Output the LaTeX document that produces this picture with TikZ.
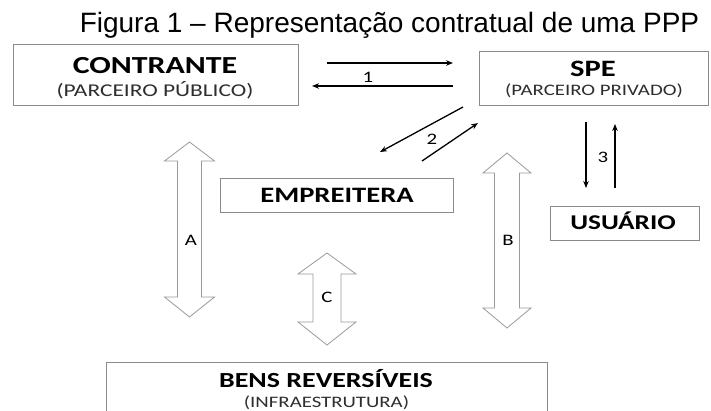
\documentclass[tikz,border=0pt]{standalone}
\usepackage{fontspec}
\setmainfont{Liberation Sans}
\newfontfamily\calfont[FakeStretch=1.3]{Carlito}
\usetikzlibrary{arrows.meta}
\definecolor{boxgray}{HTML}{8A8A8A}
\definecolor{arrgray}{HTML}{9A9A9A}
\definecolor{subgray}{HTML}{2E2E2E}
\newcommand{\blkarrow}[7]{%
  \draw[blk] (#1,#2) -- (#1+#6,#3) -- (#1+#7,#3) -- (#1+#7,#5) -- (#1+#6,#5) -- (#1,#4)
    -- (#1-#6,#5) -- (#1-#7,#5) -- (#1-#7,#3) -- (#1-#6,#3) -- cycle;}
\begin{document}
\begin{tikzpicture}[x=1pt,y=-1pt,
  box/.style={draw=boxgray, line width=1pt, fill=white, inner sep=0pt},
  tx/.style={inner sep=0pt, anchor=base},
  bigb/.style={tx, font=\calfont\bfseries\fontsize{#1}{#1}\selectfont},
  subt/.style={tx, text=subgray, font=\calfont\fontsize{#1}{#1}\selectfont},
  conn/.style={line width=1.3pt, -{Stealth[length=7pt,width=5.5pt]}},
  blk/.style={draw=arrgray, line width=0.8pt, fill=white, line join=miter},
  lbl/.style={tx, font=\calfont\fontsize{16}{16}\selectfont}]
\clip (0,0) rectangle (711,411);
\fill[white] (0,0) rectangle (711,411);

% title
\node[tx, font=\fontsize{28}{28}\selectfont] (title) at (389.5,33) {Figura 1 – Representação contratual de uma PPP};

% boxes
\node[box, minimum width=285pt, minimum height=61pt] (contr) at (155.5,75.5) {};
\node[bigb=24.5] (contrT) at (155,74) {CONTRANTE};
\node[subt=18] (contrS) at (155,97) {(PARCEIRO PÚBLICO)};

\node[box, minimum width=229pt, minimum height=54pt] (spe) at (593.5,79) {};
\node[bigb=23.5] (speT) at (593,77) {SPE};
\node[subt=16] (speS) at (594,96) {(PARCEIRO PRIVADO)};

\node[box, minimum width=233pt, minimum height=34pt] (emp) at (336.5,196) {};
\node[bigb=22] (empT) at (337,203) {EMPREITERA};

\node[box, minimum width=149pt, minimum height=34pt] (usu) at (624.5,224) {};
\node[bigb=21] (usuT) at (623,230) {USUÁRIO};

\node[box, minimum width=441pt, minimum height=100pt] (bens) at (326.5,412) {};
\node[bigb=21.5] (bensT) at (326,387) {BENS REVERSÍVEIS};
\node[subt=16] (bensS) at (326.5,407) {(INFRAESTRUTURA)};

% arrows 1
\coordinate (c1a) at (327,63); \coordinate (c1b) at (453,63);
\coordinate (c1c) at (453,86); \coordinate (c1d) at (312,86);
\draw[conn] (c1a) -- (c1b);
\draw[conn] (c1c) -- (c1d);
\node[lbl] (l1) at (368,83) {1};

% arrows 2
\coordinate (c2a) at (463,107); \coordinate (c2b) at (380,152);
\coordinate (c2c) at (422,161); \coordinate (c2d) at (478,123);
\draw[conn] (c2a) -- (c2b);
\draw[conn] (c2c) -- (c2d);
\node[lbl] (l2) at (432,145) {2};

% arrows 3
\coordinate (c3a) at (586,122); \coordinate (c3b) at (586,188);
\coordinate (c3c) at (615,188); \coordinate (c3d) at (615,124);
\draw[conn] (c3a) -- (c3b);
\draw[conn] (c3c) -- (c3d);
\node[lbl] (l3) at (603,163) {3};

% block arrows
\blkarrow{189.5}{142}{161}{317}{297}{25}{12}
\node[lbl] (lA) at (191,246) {A};
\blkarrow{507}{153}{173}{328}{308}{24}{12.5}
\node[lbl] (lB) at (508,246) {B};
\blkarrow{327}{253}{274}{345}{322}{29}{14}
\node[lbl] (lC) at (327,302) {C};
\end{tikzpicture}
\end{document}
